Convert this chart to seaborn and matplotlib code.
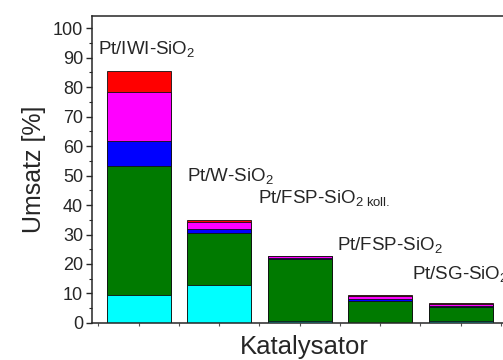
import numpy as np
import pandas as pd
import matplotlib
matplotlib.use("Agg")
import matplotlib.pyplot as plt
import seaborn as sns
from matplotlib.ticker import MultipleLocator

categories = ["Pt/IWI-SiO2", "Pt/W-SiO2", "Pt/FSP-SiO2 koll.", "Pt/FSP-SiO2", "Pt/SG-SiO2"]
cyan_vals = [9.5, 12.7, 0.6, 0.0, 0.5]
green_vals = [43.8, 17.8, 21.2, 7.6, 4.9]
blue_vals = [8.5, 1.3, 0.2, 0.4, 0.5]
magenta_vals = [16.7, 2.6, 0.6, 1.1, 0.4]
red_vals = [7.1, 0.6, 0.2, 0.4, 0.6]
bar_labels = [r"Pt/IWI-SiO$_2$", r"Pt/W-SiO$_2$", r"Pt/FSP-SiO$_{2\ \mathrm{koll.}}$",
              r"Pt/FSP-SiO$_2$", r"Pt/SG-SiO$_2$"]
label_x = [-0.51, 0.60, 1.48, 2.46, 3.39]
label_y = [93, 50, 42.5, 26.5, 16.6]

sns.set_style("ticks")
plt.rcParams['font.family'] = ['Liberation Sans', 'DejaVu Sans']
plt.rcParams['mathtext.fontset'] = 'custom'
plt.rcParams['mathtext.rm'] = 'Liberation Sans'
plt.rcParams['mathtext.it'] = 'Liberation Sans'

fig = plt.figure(figsize=(5.03, 3.6), dpi=100)
ax = fig.add_axes([0.183, 0.103, 0.845, 0.853])

layers = [("cyan", cyan_vals), ("green", green_vals), ("blue", blue_vals),
          ("magenta", magenta_vals), ("red", red_vals)]
colors = {"cyan": "#00FFFF", "green": "#007A00", "blue": "#0000FF",
          "magenta": "#FF00FF", "red": "#FF0000"}
cum = np.cumsum(np.array([v for _, v in layers]), axis=0)
for i in range(len(layers) - 1, -1, -1):
    name = layers[i][0]
    df = pd.DataFrame({"cat": categories, "val": cum[i]})
    sns.barplot(data=df, x="cat", y="val", color=colors[name], saturation=1,
                width=0.8, edgecolor="#111111", linewidth=0.6, ax=ax, order=categories)

for lab, lx, ly in zip(bar_labels, label_x, label_y):
    ax.text(lx, ly, lab, fontsize=13.5, ha="left", va="center", clip_on=False)

ax.set_xlim(-0.58, 4.7)
ax.set_ylim(0, 104.2)
ax.yaxis.set_major_locator(MultipleLocator(10))
ax.yaxis.set_minor_locator(MultipleLocator(5))
ax.set_xticks(np.arange(-0.5, 4.75, 0.5))
ax.set_xticklabels([])
ax.tick_params(axis="x", length=2.5, width=0.8, color="#555555")
ax.tick_params(axis="y", which="major", length=4.5, width=1, labelsize=13, pad=2)
ax.tick_params(axis="y", which="minor", length=2.5, width=0.8)
ax.set_xlabel("Katalysator", fontsize=18.5, labelpad=3)
ax.set_ylabel("Umsatz [%]", fontsize=18, labelpad=5)
for s in ["left", "bottom", "top"]:
    ax.spines[s].set_visible(True)
    ax.spines[s].set_linewidth(1.1)
ax.spines["right"].set_visible(False)

fig.savefig("out.png", dpi=100)
